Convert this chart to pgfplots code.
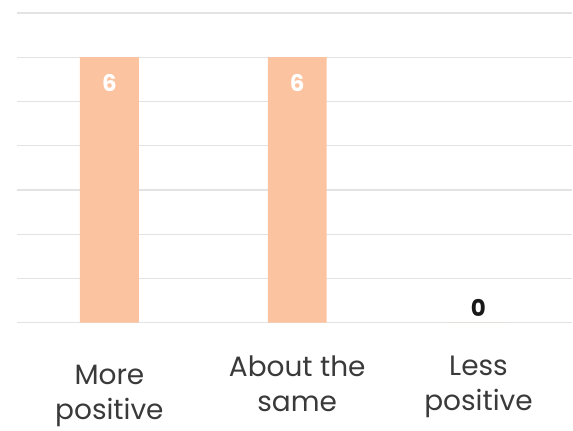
\documentclass[border=0pt]{standalone}
\usepackage{fontspec}
\setmainfont{Poppins}
\usepackage{pgfplots}
\pgfplotsset{compat=1.18}
\definecolor{barc}{HTML}{FBC3A0}
\definecolor{gridc}{HTML}{E3E3E3}
\definecolor{labc}{HTML}{3A3A3A}
\begin{document}
\begin{tikzpicture}
\begin{axis}[
  scale only axis,
  width=556pt, height=310pt,
  xmin=-0.492, xmax=2.465,
  ymin=0, ymax=7,
  ytick={0,1,...,7},
  yticklabels={},
  ymajorgrids,
  grid style={gridc, line width=1.2pt},
  axis line style={draw=none},
  major tick length=0pt,
  xtick={1,1.965},
  xticklabels={{About the\\same},{Less\\positive}},
  extra x ticks={0},
  extra x tick labels={{More\\positive}},
  extra x tick style={xticklabel style={yshift=-9pt}},
  xticklabel style={align=center, font=\fontsize{28}{35}\selectfont, text=labc, anchor=north, yshift=-30pt},
  /pgf/number format/assume math mode=true,
  ybar, bar width=59pt, bar shift=0pt,
  clip=false,
]
\addplot[fill=barc, draw=none,
  nodes near coords,
  every node near coord/.append style={anchor=north, yshift=-14pt, text=white, font=\fontsize{23}{26}\selectfont\bfseries}]
  coordinates {(0,6) (1,6)};
\addplot[fill=barc, draw=none,
  nodes near coords,
  every node near coord/.append style={anchor=south, yshift=3pt, text=black!90, font=\fontsize{23}{26}\selectfont\bfseries}]
  coordinates {(1.965,0)};
\end{axis}
\path (-17pt,-101pt) rectangle (556pt,323pt);
\end{tikzpicture}
\end{document}
